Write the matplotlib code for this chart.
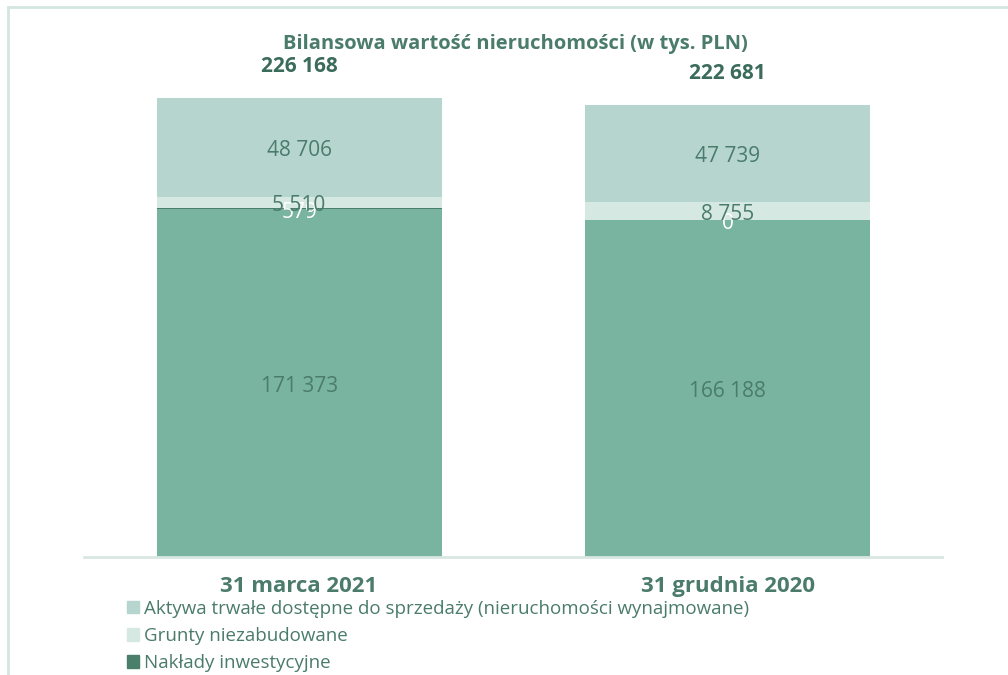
import matplotlib.pyplot as plt
from matplotlib.lines import Line2D
from matplotlib.patches import Patch

plt.rcParams['font.family'] = ['Open Sans', 'DejaVu Sans']

# data
categories = ['31 marca 2021', '31 grudnia 2020']
nieruchomosci = [171373, 166188]
naklady = [579, 0]
grunty = [5510, 8755]
aktywa = [48706, 47739]
totals = ['226 168', '222 681']

legend_labels = ['Aktywa trwałe dostępne do sprzedaży (nieruchomości wynajmowane)',
                 'Grunty niezabudowane',
                 'Nakłady inwestycyjne']

c_main = '#78b4a0'
c_naklady = '#4a7f6c'
c_grunty = '#d5e9e2'
c_aktywa = '#b7d5cf'
c_text = '#4a7b6b'
c_bold = '#3a6b5b'

def fmt(v):
    return f'{v:,}'.replace(',', ' ')

fig = plt.figure(figsize=(10.08, 6.75), dpi=100)
ax = fig.add_axes([84/1008, 1 - 557/675, (942-84)/1008, (557-30)/675])

x = [0, 1]
w = 0.665
bottom = [0, 0]
series = [(nieruchomosci, c_main, c_text), (naklady, c_naklady, 'white'),
          (grunty, c_grunty, c_text), (aktywa, c_aktywa, c_text)]
for vals, col, tcol in series:
    ax.bar(x, vals, w, bottom=bottom, color=col, linewidth=0)
    for i, v in enumerate(vals):
        ax.annotate(fmt(v), (x[i], bottom[i] + v / 2), xytext=(0, -2.5),
                    textcoords='offset points', ha='center', va='center',
                    fontsize=15, color=tcol)
    bottom = [b + v for b, v in zip(bottom, vals)]

for i, t in enumerate(totals):
    ax.annotate(t, (x[i], bottom[i]), xytext=(0, 23), textcoords='offset points',
                ha='center', va='center', fontsize=15, fontweight='bold', color=c_bold)

ax.set_xlim(-0.502, 1.5006)
ymax = 226168 * 527 / 459
ax.set_ylim(0, ymax)
for s in ['top', 'right', 'left']:
    ax.spines[s].set_visible(False)
ax.spines['bottom'].set_color('#d9e7e2')
ax.spines['bottom'].set_linewidth(2)
ax.set_yticks([])
ax.set_xticks(x)
ax.set_xticklabels(categories, fontsize=16, fontweight='bold', color=c_text)
ax.tick_params(axis='x', length=0, pad=14)

fig.text(515/1008, 1 - 44/675, 'Bilansowa wartość nieruchomości (w tys. PLN)',
         ha='center', va='center', fontsize=14.5, fontweight='bold', color=c_text)

handles = [Patch(color=c_aktywa), Patch(color=c_grunty), Patch(color=c_naklady)]
fig.legend(handles, legend_labels, loc='upper left', bbox_to_anchor=(119/1008, 1 - 592/675),
           frameon=False, fontsize=13.5, labelcolor=c_text, handlelength=0.65,
           handleheight=0.65, handletextpad=0.3, labelspacing=0.5, borderaxespad=0)

# frame lines
fig.add_artist(Line2D([8/1008, 1], [1 - 7/675, 1 - 7/675], color='#d4e6e0', lw=2))
fig.add_artist(Line2D([8/1008, 8/1008], [0, 1 - 7/675], color='#d4e6e0', lw=2))

fig.savefig('out.png', dpi=100, facecolor='white')
